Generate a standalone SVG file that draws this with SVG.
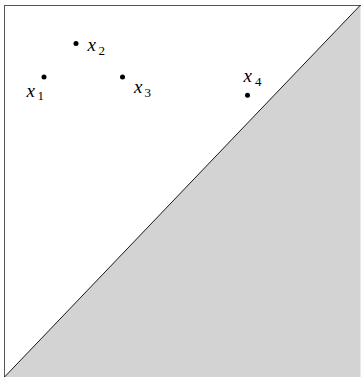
<svg xmlns="http://www.w3.org/2000/svg" width="361" height="377" viewBox="0 0 361 377">
<rect x="0" y="0" width="361" height="377" fill="#ffffff"/>
<g id="region">
<polygon points="4.5,377 360.5,5 360.5,377" fill="#d3d3d3"/>
<rect x="4.5" y="5.5" width="358" height="374" fill="none" stroke="#555555" stroke-width="1"/>
<line x1="4.5" y1="377" x2="360.5" y2="5" stroke="#000000" stroke-width="0.9"/>
</g>
<g font-family="Liberation Serif, serif" fill="#000000">
<g id="x1"><circle cx="44" cy="77" r="2.5"/><text font-style="italic" font-size="19" x="26.5" y="96.5">x</text><text font-size="13" x="37.5" y="100">1</text></g>
<g id="x2"><circle cx="76" cy="43.5" r="2.5"/><text font-style="italic" font-size="19" x="87.5" y="50.8">x</text><text font-size="13" x="98.5" y="55">2</text></g>
<g id="x3"><circle cx="122.5" cy="77" r="2.5"/><text font-style="italic" font-size="19" x="134" y="92.7">x</text><text font-size="13" x="144.5" y="97">3</text></g>
<g id="x4"><circle cx="247.5" cy="95.3" r="2.5"/><text font-style="italic" font-size="19" x="243.5" y="82.3">x</text><text font-size="13" x="255" y="86">4</text></g>
</g>
</svg>
